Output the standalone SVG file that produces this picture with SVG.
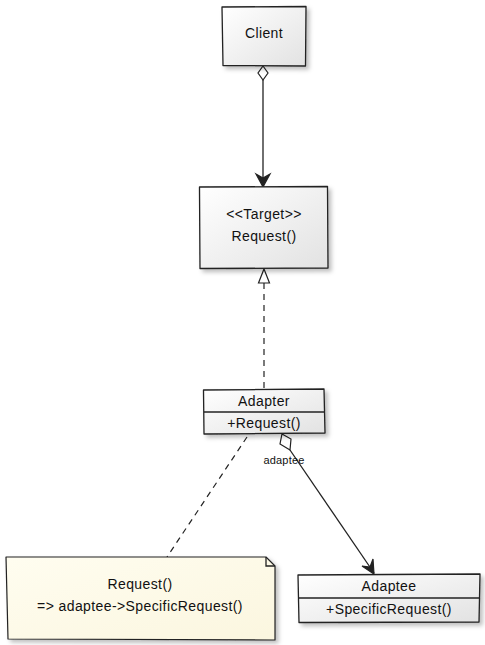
<svg xmlns="http://www.w3.org/2000/svg" width="485" height="645" viewBox="0 0 485 645">
<defs>
<linearGradient id="g" x1="0" y1="0" x2="1" y2="1">
<stop offset="0" stop-color="#ffffff"/>
<stop offset="1" stop-color="#e2e2e2"/>
</linearGradient>
<linearGradient id="gn" x1="0" y1="0" x2="1" y2="1">
<stop offset="0" stop-color="#fffdf0"/>
<stop offset="1" stop-color="#fbf6df"/>
</linearGradient>
<filter id="sh" x="-10%" y="-10%" width="130%" height="130%">
<feDropShadow dx="3" dy="3" stdDeviation="2" flood-color="#000" flood-opacity="0.25"/>
</filter>
</defs>
<style>
.box{fill:url(#g);stroke:#222;stroke-width:1.3;stroke-linejoin:round;filter:url(#sh)}
.note{fill:url(#gn);stroke:#222;stroke-width:1.2;stroke-linejoin:round;filter:url(#sh)}
.ln{fill:none;stroke:#222;stroke-width:1.3}
.dash{fill:none;stroke:#222;stroke-width:1.2;stroke-dasharray:6 5}
text{font-family:"Liberation Sans",Arial,sans-serif;font-size:14px;letter-spacing:0.4px;fill:#111;text-anchor:middle}
.sm{font-size:11px;letter-spacing:0.2px}
</style>
<g id="connectors">
<path class="ln" d="M263 80 L263 186"/>
<path d="M256 174 L263 187 L270 174 L263 178 Z" fill="#222" stroke="#222" stroke-width="1.2"/>
<path d="M263 66 L268 73 L263 80 L258 73 Z" fill="#fff" stroke="#222" stroke-width="1.2"/>
<path class="dash" d="M264 283 L264 389"/>
<path d="M264 269 L269.5 283 L258.5 283 Z" fill="#fff" stroke="#222" stroke-width="1.2"/>
<path class="ln" d="M290 450 L374 573"/>
<path d="M282 434 L291 439 L290 450 L280 444 Z" fill="#fff" stroke="#222" stroke-width="1.2"/>
<path d="M362 566 L374 574 L373 559 L370 567 Z" fill="#222" stroke="#222" stroke-width="1.2"/>
<text class="sm" x="284" y="464">adaptee</text>
<path class="dash" d="M247 437 L167 557"/>
</g>
<g id="client">
<path class="box" d="M222 7 L306 6.5 L305.5 66 L223 65.5 Z"/>
<text x="264" y="38">Client</text>
</g>
<g id="target">
<path class="box" d="M199.5 187 L327.5 186.5 L328 268 L200 268.5 Z"/>
<text x="264" y="219">&lt;&lt;Target&gt;&gt;</text>
<text x="264" y="241">Request()</text>
</g>
<g id="adapter">
<path class="box" d="M203.5 390 L324 389 L325 433 L204 434 Z"/>
<path class="ln" d="M204 412 L324.5 412"/>
<text x="264" y="406">Adapter</text>
<text x="264" y="428">+Request()</text>
</g>
<g id="note">
<path class="note" d="M6 557 L266 557 L275 566 L275 640 L8 639 Z"/>
<path class="ln" d="M266 557 L266 566 L275 566" stroke-width="1"/>
<text x="140" y="589">Request()</text>
<text x="140" y="611">=&gt;  adaptee-&gt;SpecificRequest()</text>
</g>
<g id="adaptee">
<path class="box" d="M298 575 L480 574 L479 622 L299 622.5 Z"/>
<path class="ln" d="M298.5 598 L479.5 598"/>
<text x="389" y="591">Adaptee</text>
<text x="389" y="614">+SpecificRequest()</text>
</g>
</svg>
